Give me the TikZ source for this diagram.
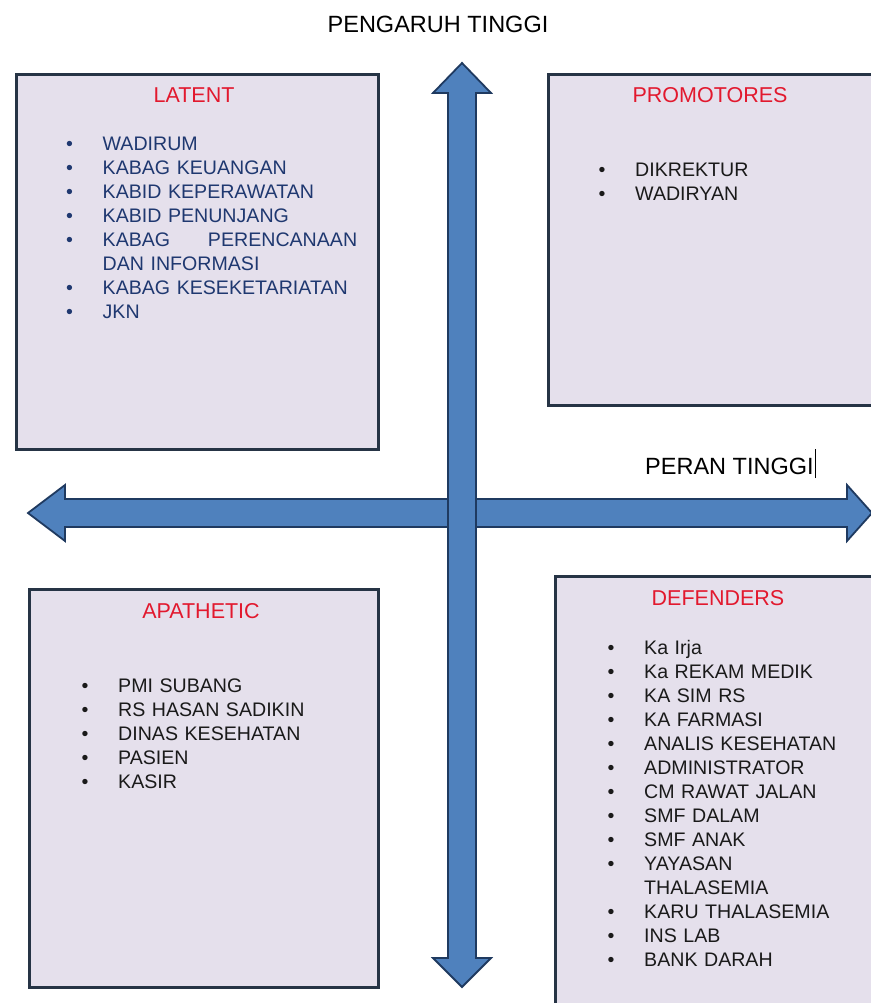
\documentclass[tikz,border=0pt]{standalone}
\usepackage{fontspec}
\setmainfont{Liberation Sans}
\usetikzlibrary{positioning}
\definecolor{birupanah}{HTML}{4F81BD}
\definecolor{garispanah}{HTML}{1F3A60}
\definecolor{isikotak}{HTML}{E5E0EC}
\definecolor{garikotak}{HTML}{263445}
\definecolor{merahjudul}{HTML}{E2192E}
\definecolor{birutulisan}{HTML}{1F3870}
\definecolor{hitamteks}{HTML}{1A1A1A}
\newcommand{\butir}[1]{\par\noindent\hangindent=36.5pt\hangafter=1\makebox[36.5pt][l]{\textbullet}#1}

\begin{document}
\begin{tikzpicture}[x=1pt,y=-1pt,
  kotak/.style={draw=garikotak, fill=isikotak, line width=2.6pt, inner sep=0pt,
                anchor=north west},
  judul/.style={font=\fontsize{21.5}{24}\selectfont, text=merahjudul, inner sep=0pt,
                anchor=base},
  daftar/.style={font=\fontsize{19.6}{24}\selectfont, text=hitamteks, text width=300pt,
                 align=left, inner sep=0pt, anchor=base west},
  sumbu/.style={font=\fontsize{23.5}{26}\selectfont, text=black, inner sep=0pt, anchor=base},
  panah/.style={draw=garispanah, fill=birupanah, line width=1.8pt, line join=miter}
]
\useasboundingbox (0,0) rectangle (870,1003);
\fill[white] (0,0) rectangle (870,1003);
% kotak kuadran
\node[kotak, minimum width=362pt, minimum height=375pt] (latent) at (15,73) {};
\node[kotak, minimum width=340pt, minimum height=331pt] (promotores) at (547,73) {};
\node[kotak, minimum width=349pt, minimum height=398pt] (apathetic) at (28,588) {};
\node[kotak, minimum width=340pt, minimum height=450pt] (defenders) at (554,575) {};
% panah sumbu
\draw[panah] (65,499) -- (65,485) -- (28,513) -- (65,541) -- (65,527) -- (847,527)
  -- (847,541) -- (872,513) -- (847,485) -- (847,499) -- cycle;
\draw[panah] (448,93) -- (433,93) -- (462,63) -- (491,93) -- (476,93) -- (476,958)
  -- (491,958) -- (462,987) -- (433,958) -- (448,958) -- cycle;
\node[sumbu] (pengaruh) at (438,33) {PENGARUH TINGGI};
\node[sumbu, anchor=base west] (peran) at (645,474)
  {PERAN TINGGI\kern1.5pt\rule[-4pt]{1.2pt}{29pt}};
% judul
\node[judul] (jlatent) at (194,103) {LATENT};
\node[judul] (jpromotores) at (710,103) {PROMOTORES};
\node[judul] (japathetic) at (201,618) {APATHETIC};
\node[judul] (jdefenders) at (718,605) {DEFENDERS};
% isi
\node[daftar, text=birutulisan, text width=291pt] (isilatent) at (66,126.5)
  {\butir{WADIRUM}\butir{KABAG KEUANGAN}\butir{KABID KEPERAWATAN}\butir{KABID PENUNJANG}%
   \butir{KABAG\hfill PERENCANAAN\newline DAN INFORMASI}\butir{KABAG KESEKETARIATAN}\butir{JKN}};
\node[daftar] (isipromotores) at (598.5,152.5)
  {\butir{DIKREKTUR}\butir{WADIRYAN}};
\node[daftar] (isiapathetic) at (81.5,668.5)
  {\butir{PMI SUBANG}\butir{RS HASAN SADIKIN}\butir{DINAS KESEHATAN}\butir{PASIEN}\butir{KASIR}};
\node[daftar] (isidefenders) at (607.5,630)
  {\butir{Ka Irja}\butir{Ka REKAM MEDIK}\butir{KA SIM RS}\butir{KA FARMASI}%
   \butir{ANALIS KESEHATAN}\butir{ADMINISTRATOR}\butir{CM RAWAT JALAN}\butir{SMF DALAM}%
   \butir{SMF ANAK}\butir{YAYASAN\newline THALASEMIA}\butir{KARU THALASEMIA}%
   \butir{INS LAB}\butir{BANK DARAH}};
\end{tikzpicture}
\end{document}
